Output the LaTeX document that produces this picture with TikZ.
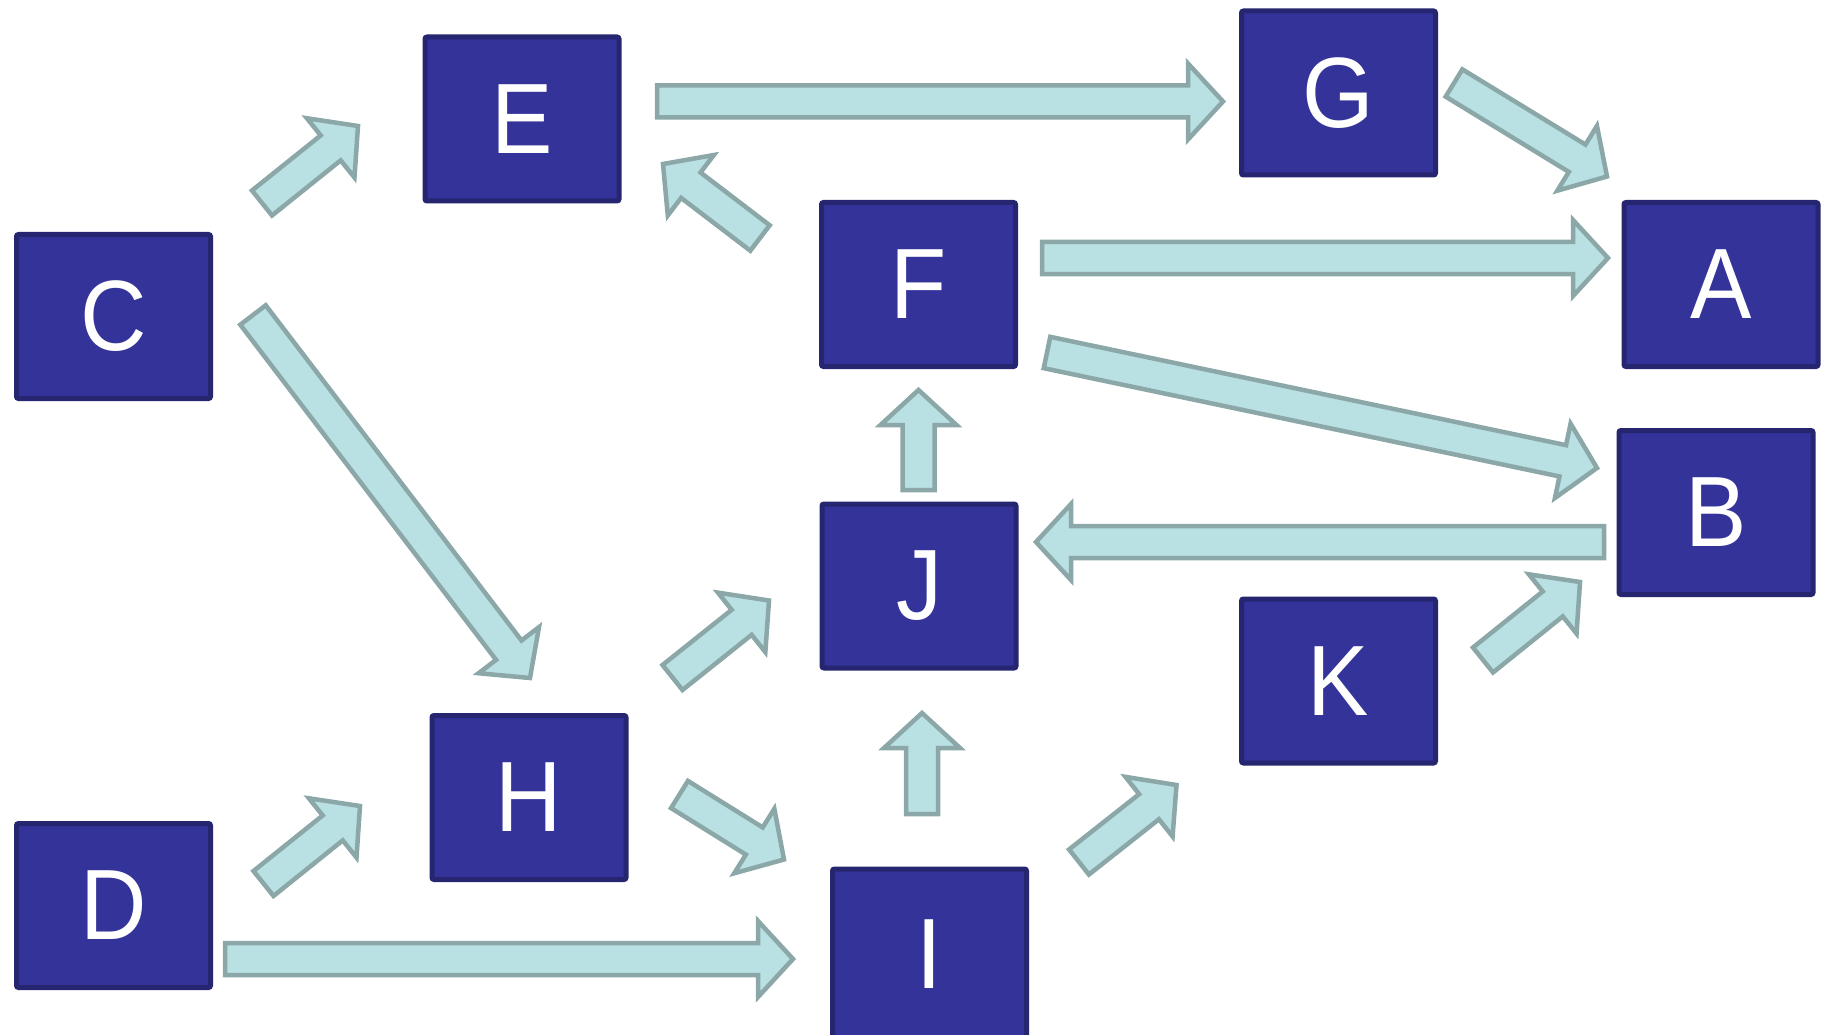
\documentclass[tikz,border=0pt]{standalone}
\usepackage{fontspec}
\setmainfont[FakeStretch=0.92]{Liberation Sans}
\usetikzlibrary{calc,positioning}
\definecolor{boxFill}{HTML}{333399}
\definecolor{boxLine}{HTML}{262670}
\definecolor{arrowFill}{HTML}{B9E0E3}
\definecolor{arrowLine}{HTML}{8BA7A8}

\newcommand{\blockarrow}[2]{%
	\coordinate (hb) at ($(#2)!35pt!(#1)$);
	\draw [flowArrow] ($(#1)!16pt!90:(#2)$) -- ($(hb)!16pt!90:(#2)$) -- ($(hb)!38pt!90:(#2)$) -- (#2)
		-- ($(hb)!38pt!-90:(#2)$) -- ($(hb)!16pt!-90:(#2)$) -- ($(#1)!16pt!-90:(#2)$) -- cycle;}

\begin{document}
\begin{tikzpicture}[x=1pt,y=-1pt,
				vertex/.style={draw=boxLine,fill=boxFill,line width=5pt,rounded corners=2pt,rectangle,
					minimum width=194pt,minimum height=164pt,inner sep=0pt,text=white,
					font=\fontsize{100}{100}\selectfont},
				flowArrow/.style={draw=arrowLine,fill=arrowFill,line width=4.5pt,line join=miter}]
			\useasboundingbox (0,0) rectangle (1821,1035);
			\node [vertex] (C) at (113.5,316.5) {C};
			\node [vertex] (E) at (522,119) {E};
			\node [vertex] (G) at (1338.5,93) {G};
			\node [vertex] (F) at (918.5,284.5) {F};
			\node [vertex] (A) at (1721,284.5) {A};
			\node [vertex] (B) at (1716,512.5) {B};
			\node [vertex] (J) at (919,586) {J};
			\node [vertex] (K) at (1338.5,681) {K};
			\node [vertex] (H) at (529,797.5) {H};
			\node [vertex] (D) at (113.5,905.5) {D};
			\node [vertex, minimum height=170pt] (I) at (929.5,954) {I};

			\coordinate (ce1) at (262,203);    \coordinate (ce2) at (358,126);
			\coordinate (ch1) at (253,315);    \coordinate (ch2) at (530,678);
			\coordinate (fe1) at (760,238);    \coordinate (fe2) at (663,164);
			\coordinate (eg1) at (657,101.5);  \coordinate (eg2) at (1223,101.5);
			\coordinate (ga1) at (1454,83);    \coordinate (ga2) at (1607,176.5);
			\coordinate (fa1) at (1042,258);   \coordinate (fa2) at (1608,258);
			\coordinate (fb1) at (1047,352.5); \coordinate (fb2) at (1597,468);
			\coordinate (jf1) at (918.5,490);  \coordinate (jf2) at (918.5,390);
			\coordinate (bj1) at (1604,542);   \coordinate (bj2) at (1036,542);
			\coordinate (hj1) at (672.5,677.5);\coordinate (hj2) at (769,600.5);
			\coordinate (hi1) at (679.5,794.5);\coordinate (hi2) at (784,859.5);
			\coordinate (dh1) at (263.5,883.5);\coordinate (dh2) at (360,806);
			\coordinate (di1) at (225,959);    \coordinate (di2) at (793,959);
			\coordinate (ij1) at (922,814);    \coordinate (ij2) at (922,713);
			\coordinate (ik1) at (1079,862);   \coordinate (ik2) at (1176.5,785);
			\coordinate (kb1) at (1483,660);   \coordinate (kb2) at (1580,582);

			\foreach \s in {ce,ch,fe,eg,ga,fa,fb,jf,bj,hj,hi,dh,di,ij,ik,kb}
				{\blockarrow{\s1}{\s2}}
		\end{tikzpicture}
\end{document}
